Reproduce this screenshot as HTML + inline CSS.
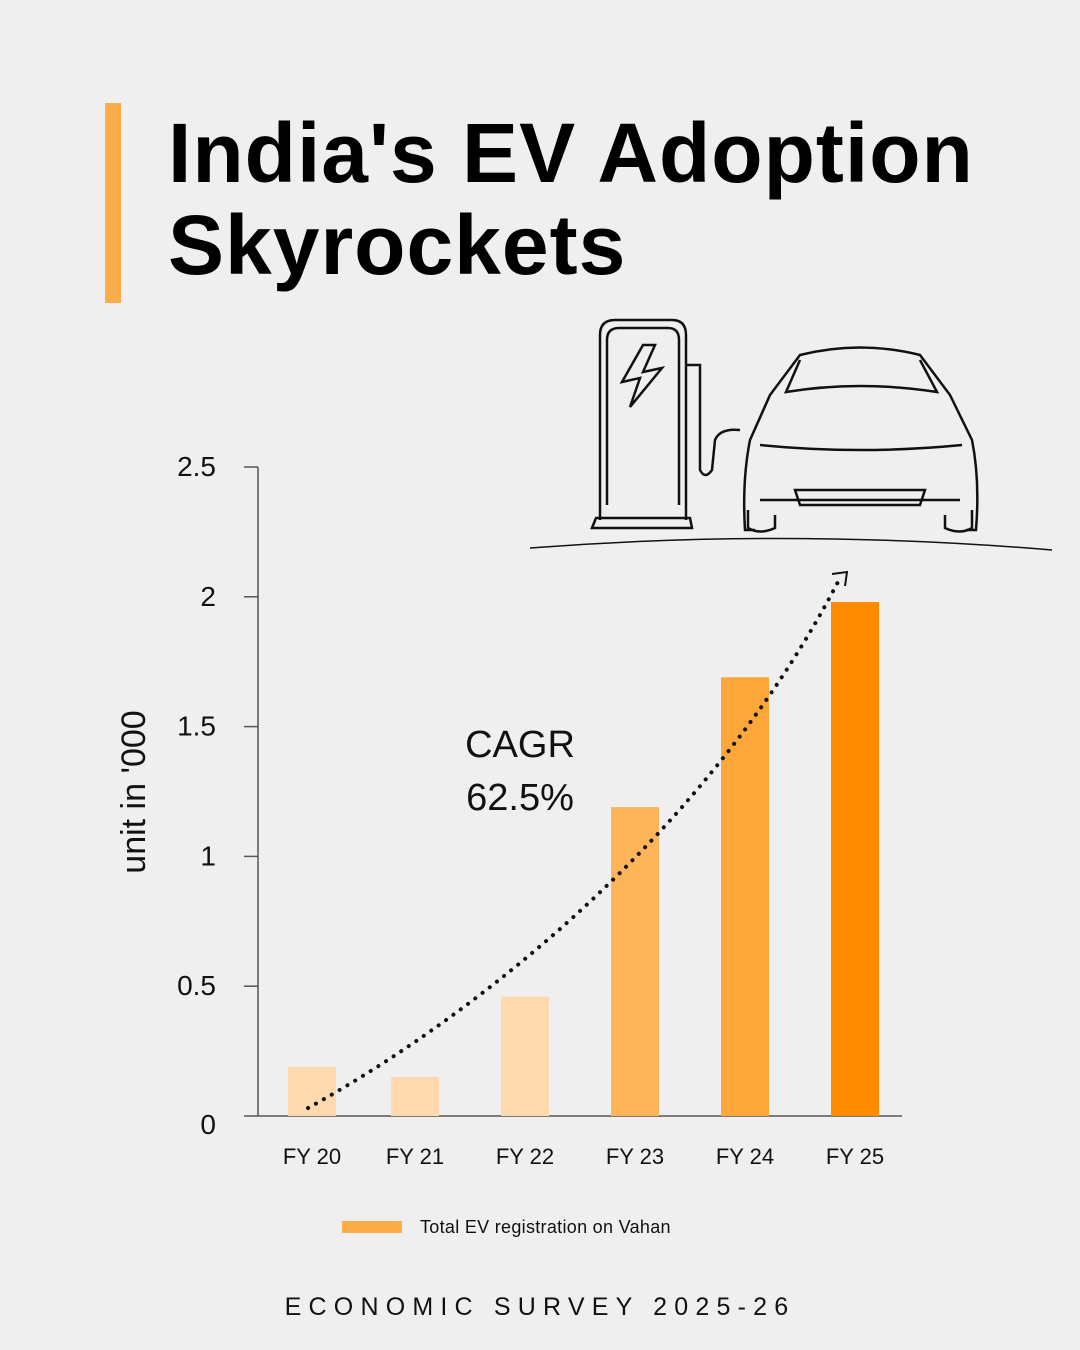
<!DOCTYPE html>
<html><head><meta charset="utf-8"><style>
body{margin:0;width:1080px;height:1350px;background:#efefef;font-family:"Liberation Sans",sans-serif;overflow:hidden;position:relative}
.t{position:absolute;left:168px;font-weight:bold;font-size:84px;line-height:92px;color:#000;letter-spacing:1px}
</style></head><body>
<div style="position:absolute;left:105px;top:103px;width:16px;height:200px;background:#fbad4a"></div>
<div class="t" style="top:107px">India's EV Adoption<br>Skyrockets</div>
<svg width="1080" height="1350" style="position:absolute;left:0;top:0">
<g fill="none" stroke="#111" stroke-width="2.5">
<path d="M600,520 L600,335 Q600,320 615,320 L672,320 Q686,320 686,335 L686,520"/>
<path d="M607,505 L607,340 Q607,328 619,328 L668,328 Q679,328 679,340 L679,505"/>
<path d="M592,528 L692,528 L690,518 L596,518 Z"/>
<path d="M643,345 L622,382 L640,378 L630,407 L662,368 L643,372 L655,345 Z"/>
<path d="M686,365 L700,365 L700,470 Q705,480 712,470 L715,440 Q720,428 740,430"/>
<path d="M755,530 L745,530 Q742,480 750,440 L770,395 L800,355 Q860,340 920,355 L950,395 L972,440 Q980,480 976,530 L966,530"/>
<path d="M760,445 Q860,455 962,445"/>
<path d="M800,360 L786,392 Q860,380 937,392 L920,360"/>
<path d="M760,500 L960,500 M795,490 L925,490 L920,505 L800,505 Z"/>
<path d="M748,510 L748,528 Q760,535 775,528 L775,515 M945,515 L945,528 Q960,535 972,528 L972,510"/>
<path d="M530,548 Q790,528 1052,550" stroke-width="1.5"/>
</g>
<g id="axes"></g>
<g id="bars"></g>
<path id="trend" d="M308,1108 C450,1030 700,850 840,578" fill="none" stroke="#111" stroke-width="4" stroke-dasharray="0.1 9" stroke-linecap="round"/>
<path d="M832,574 L847,572 L845,586" fill="none" stroke="#111" stroke-width="2"/>
<text x="520" y="757" font-size="38" text-anchor="middle" fill="#111">CAGR</text>
<text x="520" y="810" font-size="38" text-anchor="middle" fill="#111">62.5%</text>
<text transform="translate(145,792) rotate(-90)" font-size="34" text-anchor="middle" fill="#111">unit in '000</text>
<rect x="342" y="1221" width="60" height="12" fill="#fbad4a"/>
<text x="420" y="1233" font-size="18" letter-spacing="0.3" fill="#111">Total EV registration on Vahan</text>
<text x="540" y="1315" font-size="25" text-anchor="middle" letter-spacing="7.2" fill="#111">ECONOMIC SURVEY 2025-26</text>
</svg>
<script>
const categories=["FY 20","FY 21","FY 22","FY 23","FY 24","FY 25"];
const values=[0.19,0.15,0.46,1.19,1.69,1.98];
const colors=["#fdd9ad","#fdd9ad","#fdd9ad","#feb55a","#fda63a","#ff8c00"];
const yTicks=[0,0.5,1,1.5,2,2.5];
const yTickLabels=["0","0.5","1","1.5","2","2.5"];
const NS="http://www.w3.org/2000/svg";
const y=v=>1116-v*259.6;
const x=i=>i===0?312:305+i*110;
const ax=document.getElementById('axes'),bg=document.getElementById('bars');
function mk(t,a,p){const e=document.createElementNS(NS,t);for(const k in a)e.setAttribute(k,a[k]);p.appendChild(e);return e;}
let l=mk('line',{x1:258,y1:467,x2:258,y2:1116,stroke:'#555','stroke-width':1.5},ax);


l=mk('line',{x1:258,y1:1116,x2:902,y2:1116,stroke:'#555','stroke-width':1.5},ax);


yTicks.forEach((v,i)=>{
 const tk=mk('line',{x1:244,x2:258,y1:y(v),y2:y(v),stroke:'#555','stroke-width':1.5},ax);
 
 
 const t=mk('text',{x:216,y:y(v)+(v===0?18:9),'font-size':28,'text-anchor':'end',fill:'#111'},ax);
 t.textContent=yTickLabels[i];
 
 
});
categories.forEach((c,i)=>{
 const r=mk('rect',{x:x(i)-24,y:y(values[i]),width:48,height:1116-y(values[i]),fill:colors[i]},bg);
 
 
 const t=mk('text',{x:x(i),y:1164,'font-size':22,'text-anchor':'middle',fill:'#111'},bg);
 t.textContent=c;
 
 
});
</script>
</body></html>
